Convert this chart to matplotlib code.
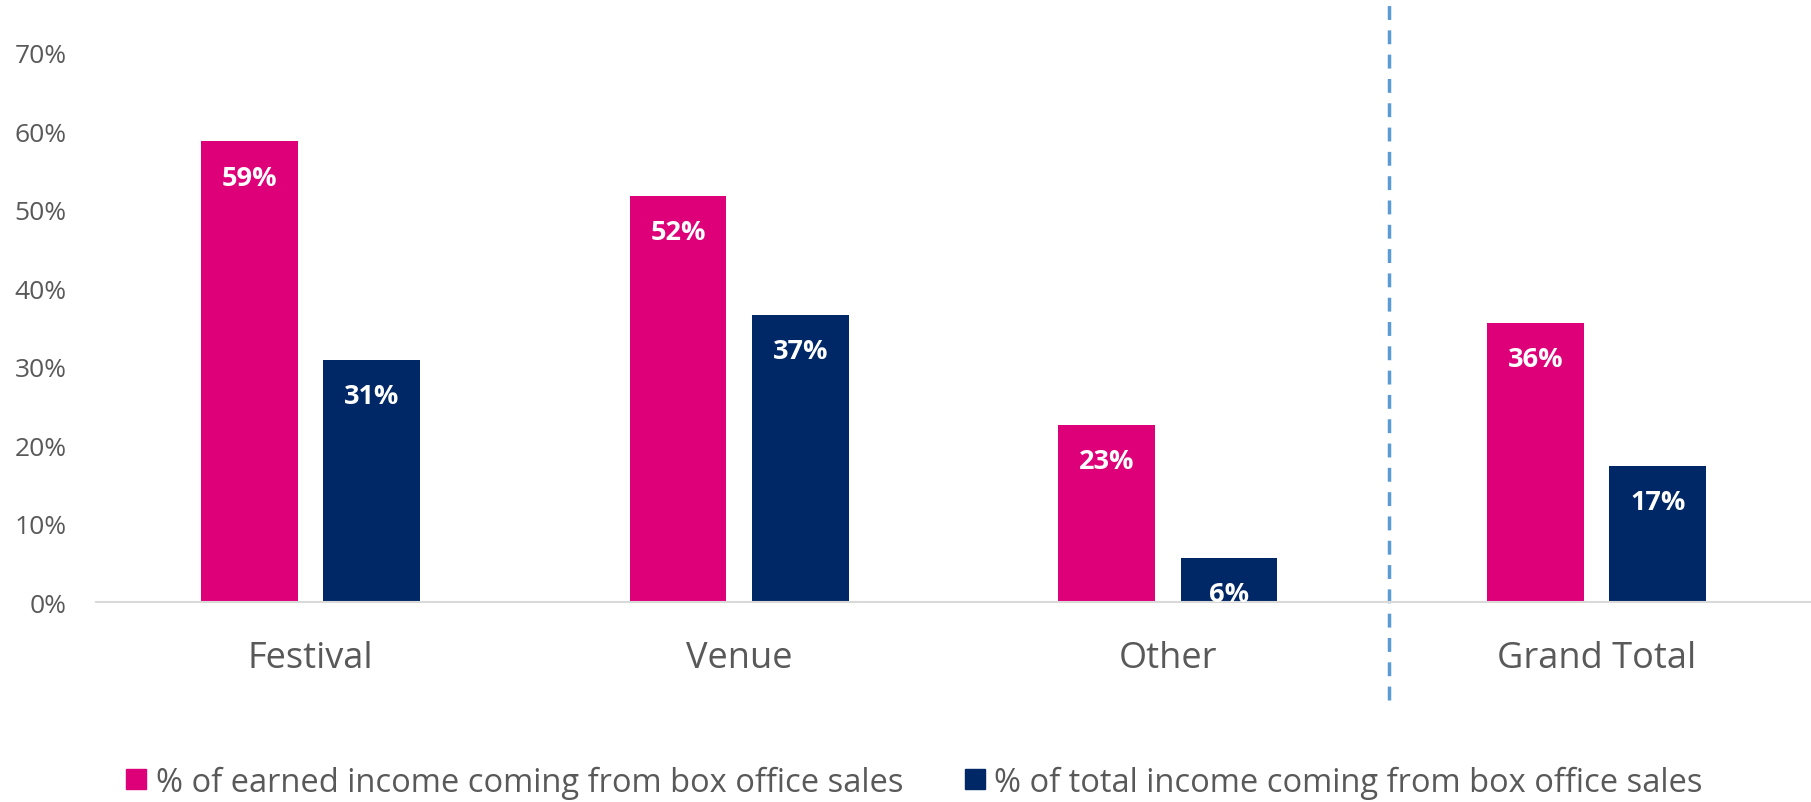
import matplotlib.pyplot as plt
import numpy as np
from matplotlib.patches import Patch

plt.rcParams["font.family"] = ["Open Sans", "DejaVu Sans"]

categories = ["Festival", "Venue", "Other", "Grand Total"]
earned_share = [58.7, 51.8, 22.6, 35.6]
total_share = [30.8, 36.6, 5.6, 17.3]
series_names = [
    "% of earned income coming from box office sales",
    "% of total income coming from box office sales",
]
yticks = [0, 10, 20, 30, 40, 50, 60, 70]

PINK = "#DE0079"
NAVY = "#002766"
GREY = "#595959"

fig = plt.figure(figsize=(18.11, 8.03), dpi=100)
ax = fig.add_axes([0.053, 0.249, 0.947, 0.684])

x = np.arange(len(categories))
width = 0.226
off = 0.1425

bars1 = ax.bar(x - off, earned_share, width, color=PINK)
bars2 = ax.bar(x + off, total_share, width, color=NAVY)

for bars in (bars1, bars2):
    for b in bars:
        h = b.get_height()
        ax.annotate(f"{h:.0f}%", (b.get_x() + b.get_width() / 2, h),
                    xytext=(0, -26), textcoords="offset points",
                    ha="center", va="center", color="white",
                    fontsize=19.5, fontweight="bold")

ax.set_xlim(-0.5, 3.5)
ax.set_ylim(0, 70)
ax.set_yticks(yticks)
ax.set_yticklabels([f"{t}%" for t in yticks])
ax.set_xticks(x)
ax.set_xticklabels(categories)
ax.tick_params(axis="y", length=0, labelsize=19, labelcolor=GREY, pad=21)
ax.tick_params(axis="x", length=0, labelsize=26, labelcolor=GREY, pad=27)

for s in ["top", "right", "left"]:
    ax.spines[s].set_visible(False)
ax.spines["bottom"].set_color("#D9D9D9")
ax.spines["bottom"].set_linewidth(1.5)

# separator before the total
ax.axvline(2.516, ymin=-0.179, ymax=1.1, clip_on=False, color="#5B9BD5",
           linewidth=2.5, dashes=(4, 3))

handles = [Patch(color=PINK), Patch(color=NAVY)]
fig.legend(handles, series_names, loc="center", bbox_to_anchor=(0.505, 0.025),
           ncol=2, frameon=False, fontsize=23.5, labelcolor=GREY,
           handlelength=0.6, handleheight=0.6, handletextpad=0.3,
           columnspacing=1.9)

fig.savefig("out.png", dpi=100)
